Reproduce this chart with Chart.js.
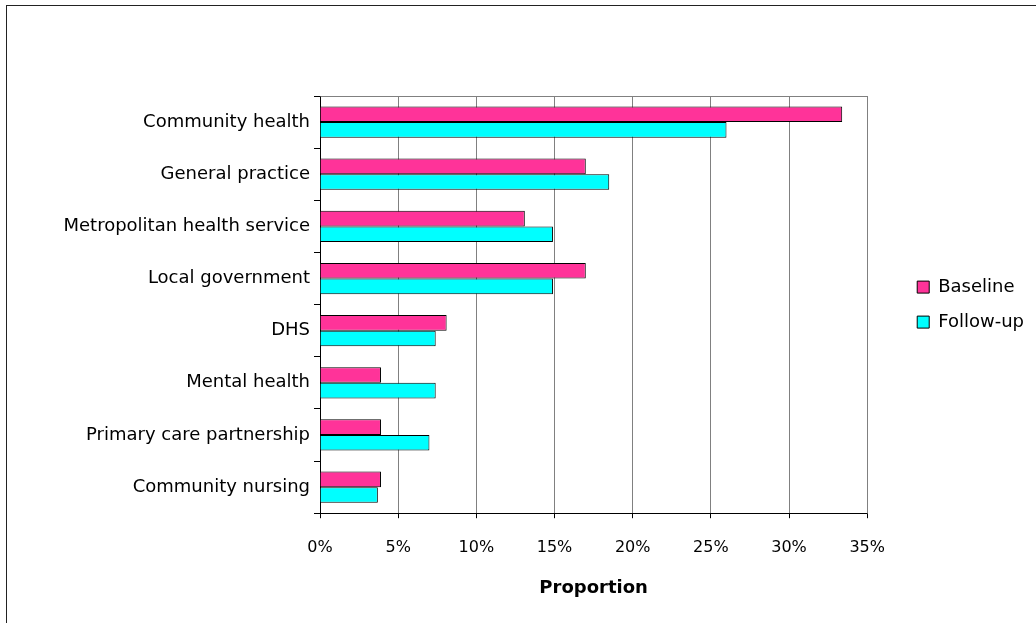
<!DOCTYPE html>
<html>
<head>
<meta charset="utf-8">
<script src="https://cdn.jsdelivr.net/npm/chart.js@4.4.0/dist/chart.umd.min.js"></script>
<style>
  html, body { margin: 0; padding: 0; background: #fff; overflow: hidden; }
  #wrap { position: relative; width: 1036px; height: 623px; }
  #frame { position: absolute; left: 6px; top: 5px; width: 1100px; height: 700px; border: 1px solid #222; }
  #chartBox { position: absolute; left: 0; top: 0; width: 1036px; height: 623px; }
</style>
</head>
<body>
<div id="wrap">
  <div id="frame"></div>
  <div id="chartBox"><canvas id="chart"></canvas></div>
</div>
<script>
// ===== Data =====
const categories = [
  'Community health',
  'General practice',
  'Metropolitan health service',
  'Local government',
  'DHS',
  'Mental health',
  'Primary care partnership',
  'Community nursing'
];
const baseline = [33.4, 17.0, 13.1, 17.0, 8.1, 3.9, 3.9, 3.9];
const followUp = [26.0, 18.5, 14.9, 14.9, 7.4, 7.4, 7.0, 3.7];
const xTicks = [0, 5, 10, 15, 20, 25, 30, 35];

const FONT = "'DejaVu Sans', sans-serif";

// gray frame round the plot area
const plotFrame = {
  id: 'plotFrame',
  beforeDatasetsDraw(chart) {
    const { ctx, chartArea: a } = chart;
    ctx.save();
    ctx.strokeStyle = '#808080';
    ctx.lineWidth = 1;
    ctx.beginPath();
    ctx.moveTo(Math.round(a.left) + 0.5, Math.round(a.top) + 0.5);
    ctx.lineTo(Math.round(a.right) + 0.5, Math.round(a.top) + 0.5);
    ctx.lineTo(Math.round(a.right) + 0.5, Math.round(a.bottom) + 0.5);
    ctx.stroke();
    ctx.restore();
  }
};

// put the legend beside the plot, centred on it
const legendPlace = {
  id: 'legendPlace',
  afterLayout(chart) {
    const lg = chart.legend, a = chart.chartArea;
    const w = lg.width;
    lg.left = a.right + 50 - lg.options.labels.padding;
    lg.right = lg.left + w;
    lg.top = a.top;
    lg.bottom = a.bottom;
    lg.height = a.bottom - a.top;
  }
};

new Chart(document.getElementById('chart'), {
  type: 'bar',
  data: {
    labels: categories,
    datasets: [
      { label: 'Baseline', data: baseline, backgroundColor: '#FF3399', borderColor: '#000', borderWidth: 1 },
      { label: 'Follow-up', data: followUp, backgroundColor: '#00FFFF', borderColor: '#000', borderWidth: 1 }
    ]
  },
  options: {
    indexAxis: 'y',
    responsive: true,
    maintainAspectRatio: false,
    animation: false,
    datasets: { bar: { categoryPercentage: 0.6, barPercentage: 1.0 } },
    layout: { padding: { left: 0, right: 35, top: 96, bottom: 20 } },
    plugins: {
      legend: {
        position: 'right',
        labels: {
          font: { family: FONT, size: 18 },
          color: '#000',
          boxWidth: 12,
          boxHeight: 12,
          padding: 17
        }
      },
      tooltip: { enabled: false }
    },
    scales: {
      x: {
        min: 0,
        max: 35,
        afterBuildTicks: s => { s.ticks = xTicks.map(v => ({ value: v })); },
        ticks: {
          callback: v => v + '%',
          font: { family: FONT, size: 16 },
          color: '#000',
          padding: 20
        },
        grid: { color: '#808080', tickColor: '#000', tickLength: 5 },
        border: { color: '#000' },
        title: {
          display: true,
          text: 'Proportion',
          font: { family: FONT, size: 18, weight: 'bold' },
          color: '#000',
          padding: { top: 0 }
        }
      },
      y: {
        ticks: {
          font: { family: FONT, size: 18 },
          color: '#000',
          padding: 4
        },
        grid: { offset: true, drawOnChartArea: false, color: '#000', tickLength: 6 },
        border: { color: '#000' },
        afterFit: s => { s.width = 320; }
      }
    }
  },
  plugins: [plotFrame, legendPlace]
});
</script>
</body>
</html>
